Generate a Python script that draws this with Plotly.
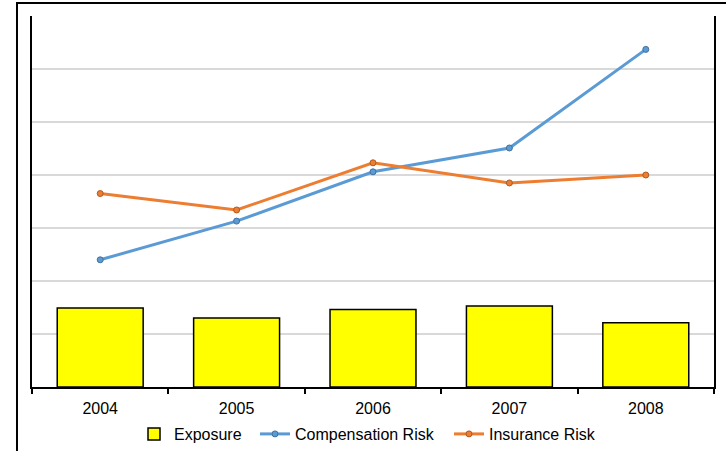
import plotly.graph_objects as go

# Yearly values (units = one gridline step)
years = ["2004", "2005", "2006", "2007", "2008"]
exposure = [1.49, 1.30, 1.46, 1.53, 1.21]
compensation_risk = [2.40, 3.13, 4.06, 4.51, 6.37]
insurance_risk = [3.65, 3.34, 4.23, 3.85, 4.00]

W, H = 726, 451
legend_y = 1 - 434 / H

fig = go.Figure()

fig.add_trace(go.Bar(
    x=years, y=exposure, name="Exposure", legend="legend",
    marker=dict(color="#FFFF00", line=dict(color="#000000", width=1.5)),
    width=0.63,
))
fig.add_trace(go.Scatter(
    x=years, y=compensation_risk, name="Compensation Risk", legend="legend2",
    mode="lines+markers",
    line=dict(color="#5B9BD5", width=3),
    marker=dict(size=6, color="#5B9BD5", line=dict(color="#41719C", width=1)),
))
fig.add_trace(go.Scatter(
    x=years, y=insurance_risk, name="Insurance Risk", legend="legend3",
    mode="lines+markers",
    line=dict(color="#ED7D31", width=3),
    marker=dict(size=6, color="#ED7D31", line=dict(color="#AE5A21", width=1)),
))


def legend_at(px):
    return dict(
        orientation="h", x=px / W, xanchor="left",
        xref="container", yref="container",
        y=legend_y, yanchor="middle",
        font=dict(size=16), itemwidth=30,
        bgcolor="rgba(0,0,0,0)",
    )


fig.update_layout(
    width=W, height=H,
    margin=dict(l=32, r=12, t=16, b=64, autoexpand=False),
    paper_bgcolor="white", plot_bgcolor="white",
    font=dict(family="Liberation Sans, Arial, sans-serif", size=16, color="#000000"),
    showlegend=True,
    legend=legend_at(134),
    legend2=legend_at(255),
    legend3=legend_at(449),
    xaxis=dict(
        type="category", tickson="boundaries",
        showline=True, linecolor="#000000", linewidth=2,
        ticks="outside", ticklen=5, tickcolor="#000000", tickwidth=1.5,
        ticklabelstandoff=6,
        showgrid=False, range=[-0.5, 4.5],
        tickfont=dict(size=16),
    ),
    yaxis=dict(
        range=[0, 7], dtick=1,
        showticklabels=False, ticks="",
        showgrid=True, gridcolor="#D9D9D9", gridwidth=1.5,
        showline=True, linecolor="#000000", linewidth=2, mirror=True,
        zeroline=False,
    ),
    bargap=0.37,
    shapes=[dict(
        type="rect", xref="paper", yref="paper",
        x0=-0.022, x1=1.05, y0=-0.25, y1=1.035,
        line=dict(color="#000000", width=2), fillcolor="rgba(0,0,0,0)",
        layer="above",
    )],
)

fig.write_html("out.html")
